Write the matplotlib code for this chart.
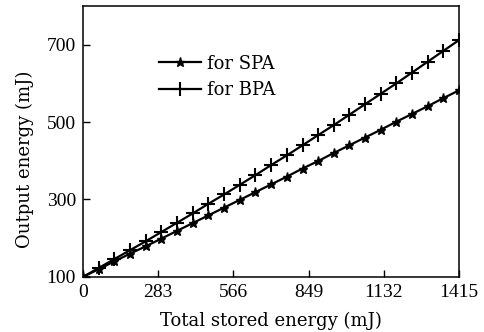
import numpy as np
import matplotlib.pyplot as plt

# Total stored energy (mJ) and output energy (mJ)
stored = [0, 59, 118, 177, 236, 295, 354, 413, 472, 531, 590, 649, 708,
          767, 826, 884, 943, 1002, 1061, 1120, 1179, 1238, 1297, 1356, 1415]
spa = [100, 120, 140, 160, 179, 199, 219, 239, 259, 279, 299, 319, 339,
       359, 380, 399, 420, 440, 460, 480, 501, 521, 541, 562, 582]
bpa = [100, 123, 146, 169, 192, 216, 240, 264, 289, 313, 338, 363, 389,
       414, 440, 466, 492, 519, 546, 573, 600, 628, 656, 684, 712]
xticks = [0, 283, 566, 849, 1132, 1415]
yticks = [100, 300, 500, 700]

plt.rcParams['font.family'] = ['Liberation Serif', 'DejaVu Serif']
plt.rcParams['font.size'] = 14
lab_font = {'family': 'DejaVu Serif', 'size': 13}

fig = plt.figure(figsize=(4.84, 3.32), dpi=100)
ax = fig.add_axes([0.1715, 0.166, 0.777, 0.816])

ax.plot(stored, spa, color='black', lw=1.6, marker='*', ms=6.5, label='for SPA')
ax.plot(stored, bpa, color='black', lw=1.6, marker='+', ms=10, mew=1.5, label='for BPA')

ax.set_xlim(0, 1415)
ax.set_ylim(100, 800)
ax.set_xticks(xticks)
ax.set_yticks(yticks)
ax.tick_params(direction='in', length=5, width=1, pad=5)
for s in ax.spines.values():
    s.set_linewidth(1.1)

ax.set_xlabel('Total stored energy (mJ)', fontdict=lab_font, labelpad=8)
ax.set_ylabel('Output energy (mJ)', fontdict=lab_font)
ax.yaxis.set_label_coords(-0.13, 0.435)

ax.legend(loc='upper left', bbox_to_anchor=(0.16, 0.88), frameon=False,
          prop={'family': 'DejaVu Serif', 'size': 13},
          handlelength=2.3, handletextpad=0.35, labelspacing=0.45)

fig.savefig('out.png', dpi=100)
